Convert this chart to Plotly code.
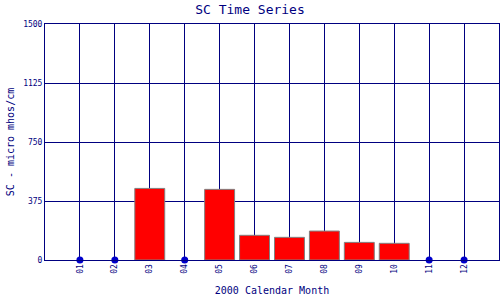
import plotly.graph_objects as go

months = ["01", "02", "03", "04", "05", "06", "07", "08", "09", "10", "11", "12"]
sc_values = [0, 0, 455, 0, 449, 157, 144, 184, 112, 106, 0, 0]
y_ticks = [0, 375, 750, 1125, 1500]

xs = list(range(1, 13))
bar_x = [x for x, v in zip(xs, sc_values) if v > 0]
bar_y = [v for v in sc_values if v > 0]
zero_x = [x for x, v in zip(xs, sc_values) if v == 0]
zero_y = [0 for v in sc_values if v == 0]

navy = "#000080"
font = "DejaVu Sans Mono"

fig = go.Figure()
fig.add_trace(go.Bar(x=bar_x, y=bar_y, width=0.857,
                     marker=dict(color="#FF0000", line=dict(color="#808080", width=1))))
fig.add_trace(go.Scatter(x=zero_x, y=zero_y, mode="markers", cliponaxis=False,
                         marker=dict(color="#0000CC", size=7)))

fig.update_layout(
    width=500, height=300,
    margin=dict(l=45, r=1, t=24, b=40),
    paper_bgcolor="white", plot_bgcolor="white",
    showlegend=False,
    title=dict(text="SC Time Series", x=0.5, xanchor="center", y=0.968, yanchor="middle",
               font=dict(family=font, size=13, color=navy)),
    xaxis=dict(range=[0, 13], tickmode="array", tickvals=xs, ticktext=months,
               tickangle=-90, tickfont=dict(family=font, size=8, color=navy),
               showgrid=True, gridcolor=navy, gridwidth=1,
               showline=True, linecolor=navy, linewidth=1, mirror=True,
               zeroline=False, ticks="",
               title=dict(text="2000 Calendar Month", font=dict(family=font, size=10, color=navy), standoff=14)),
    yaxis=dict(range=[0, 1500], tickmode="array", tickvals=y_ticks,
               tickfont=dict(family=font, size=8, color=navy),
               showgrid=True, gridcolor=navy, gridwidth=1,
               showline=True, linecolor=navy, linewidth=1, mirror=True,
               zeroline=False, ticks="",
               title=dict(text="SC - micro mhos/cm", font=dict(family=font, size=10, color=navy), standoff=6)),
)

fig.write_html("out.html")
